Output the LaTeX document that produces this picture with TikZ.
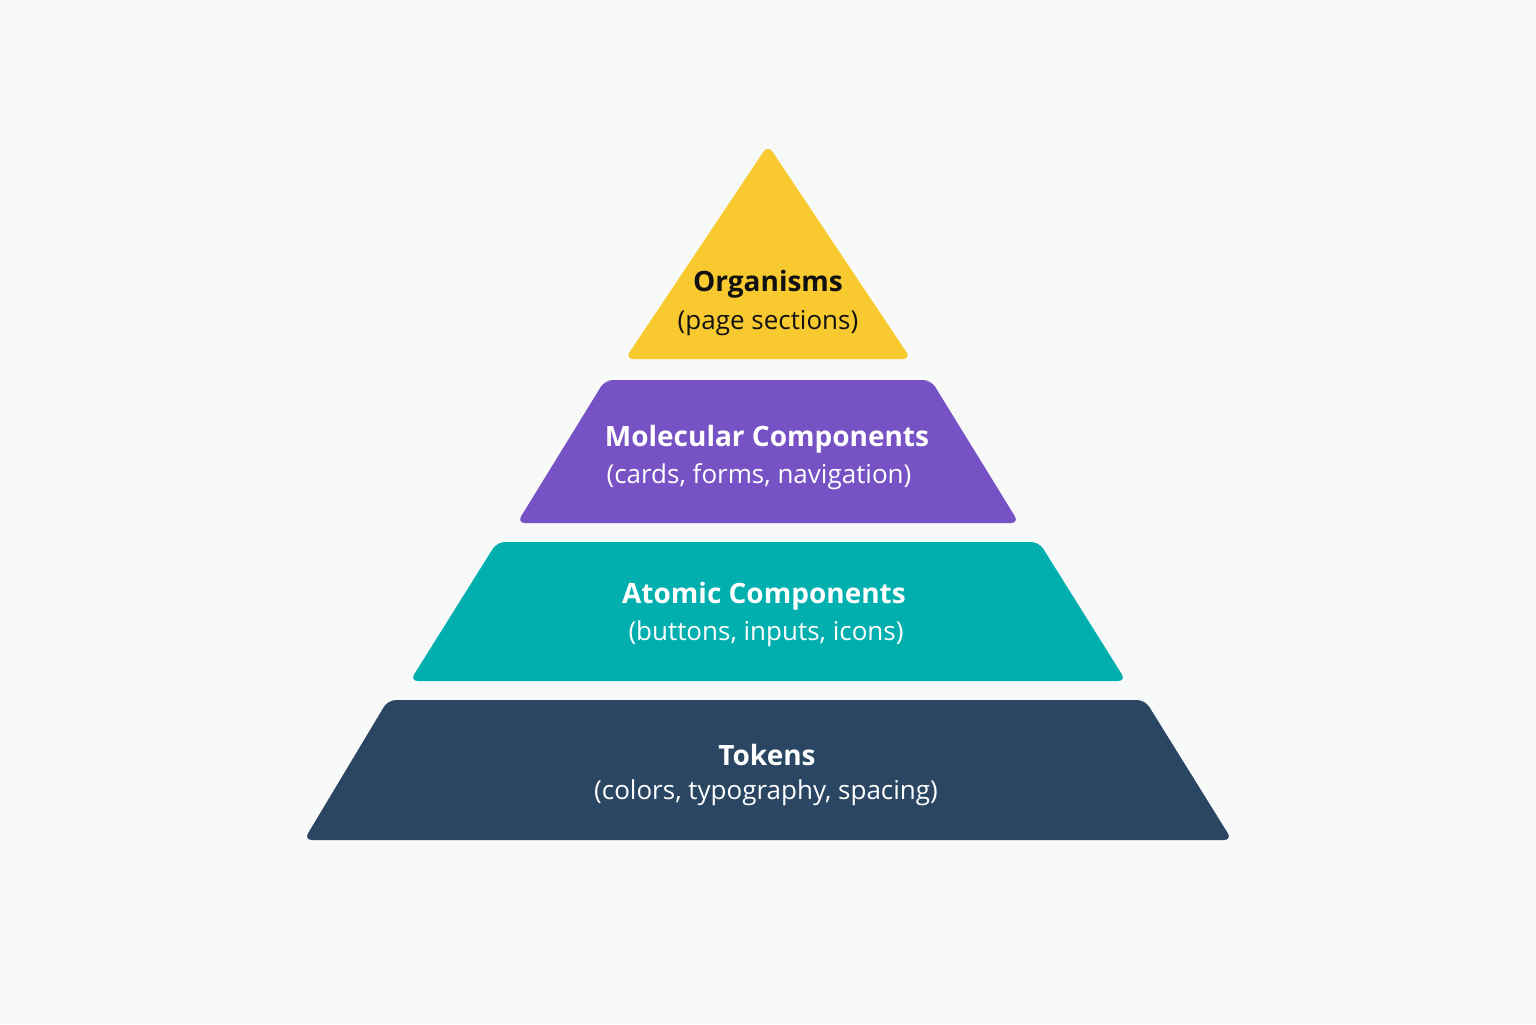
\documentclass[tikz,border=0pt]{standalone}
\usepackage{fontspec}
\setmainfont{Open Sans}
\definecolor{bgc}{HTML}{F8F9F9}
\definecolor{yel}{HTML}{F9CA2F}
\definecolor{pur}{HTML}{7652C4}
\definecolor{tea}{HTML}{00AFAE}
\definecolor{nav}{HTML}{2A4662}
\definecolor{ink}{HTML}{111111}
\begin{document}
\begin{tikzpicture}[x=0.5pt,y=-0.5pt,
  tier/.style={rounded corners=4pt},
  ttl/.style={font=\fontsize{14}{17}\selectfont\bfseries, anchor=center, inner sep=0pt},
  sub/.style={font=\fontsize{13}{16}\selectfont, anchor=center, inner sep=0pt}]
\fill[bgc] (0,0) rectangle (1536,1024);
\useasboundingbox (0,0) rectangle (1536,1024);
% tiers
\fill[yel,tier] (768,145) -- (911,359) -- (625,359) -- cycle;
\fill[pur,tier] (605,380) -- (931,380) -- (1019,523) -- (517,523) -- cycle;
\fill[tea,tier] (497,542) -- (1039,542) -- (1126,681) -- (410,681) -- cycle;
\fill[nav,tier] (388,700) -- (1145,700) -- (1232,840) -- (304,840) -- cycle;
% labels
\node[ttl,text=ink] (org) at (768,284) {Organisms};
\node[sub,text=ink] (orgs) at (768,323) {(page sections)};
\node[ttl,text=white] (mol) at (767,439) {Molecular Components};
\node[sub,text=white] (mols) at (759,477) {(cards, forms, navigation)};
\node[ttl,text=white] (atom) at (764,596) {Atomic Components};
\node[sub,text=white] (atoms) at (766,634) {(buttons, inputs, icons)};
\node[ttl,text=white] (tok) at (767,755) {Tokens};
\node[sub,text=white] (toks) at (766,793) {(colors, typography, spacing)};
\end{tikzpicture}
\end{document}
